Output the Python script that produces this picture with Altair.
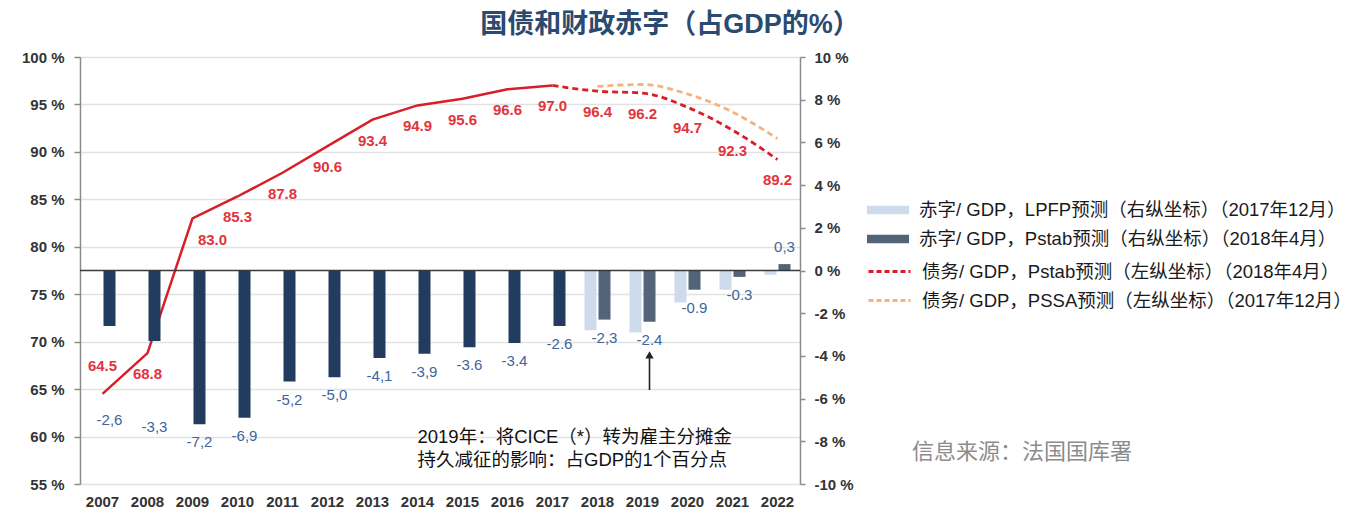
import altair as alt
import pandas as pd

# ---------------- data ----------------
years = [str(y) for y in range(2007, 2023)]
hist_years = years[:11]          # 2007-2017
fc_years = years[11:]            # 2018-2022
debt_fc_years = years[10:]       # 2017-2022 (dashed Pstab line starts at 2017)

deficit_hist = [-2.6, -3.3, -7.2, -6.9, -5.2, -5.0, -4.1, -3.9, -3.6, -3.4, -2.6]
deficit_hist_labels = ["-2,6", "-3,3", "-7,2", "-6,9", "-5,2", "-5,0", "-4,1", "-3,9", "-3.6", "-3.4", "-2.6"]
deficit_lpfp = [-2.8, -2.9, -1.5, -0.9, -0.2]
deficit_pstab = [-2.3, -2.4, -0.9, -0.3, 0.3]
deficit_pstab_labels = ["-2,3", "-2.4", "-0.9", "-0.3", "0,3"]

debt_hist = [64.5, 68.8, 83.0, 85.3, 87.8, 90.6, 93.4, 94.9, 95.6, 96.6, 97.0]
debt_pstab = [97.0, 96.4, 96.2, 94.7, 92.3, 89.2]
debt_pssa = [96.9, 97.1, 96.1, 94.2, 91.4]

left_ticks = [55, 60, 65, 70, 75, 80, 85, 90, 95, 100]
right_ticks = [-10, -8, -6, -4, -2, 0, 2, 4, 6, 8, 10]

title_text = "国债和财政赤字（占GDP的%）"
HIST = "赤字/ GDP（历史）"
LPFP = "赤字/ GDP，LPFP预测（右纵坐标）（2017年12月）"
PSTAB = "赤字/ GDP，Pstab预测（右纵坐标）（2018年4月）"
DEBT_PSTAB = "债务/ GDP，Pstab预测（左纵坐标）（2018年4月）"
DEBT_PSSA = "债务/ GDP，PSSA预测（左纵坐标）（2017年12月）"
note_lines = ["2019年：将CICE（*）转为雇主分摊金", "持久减征的影响：占GDP的1个百分点"]
source_text = "信息来源：法国国库署"

# ---------------- styles ----------------
FONT = "Liberation Sans, Noto Sans CJK SC, sans-serif"
NAVY = "#213c5e"
LIGHT = "#cddbec"
DARK = "#52637a"
RED = "#d81e28"
RED_LABEL = "#e0353d"
ORANGE = "#f7b27c"
BLUE_LABEL = "#40659a"
AXIS_TXT = "#333333"

# ---------------- tables ----------------
bar_rows = []
for y, v, l in zip(hist_years, deficit_hist, deficit_hist_labels):
    bar_rows.append({"year": y, "value": v, "series": HIST, "slot": "B", "label": l})
for y, v in zip(fc_years, deficit_lpfp):
    bar_rows.append({"year": y, "value": v, "series": LPFP, "slot": "A", "label": ""})
for y, v, l in zip(fc_years, deficit_pstab, deficit_pstab_labels):
    bar_rows.append({"year": y, "value": v, "series": PSTAB, "slot": "B", "label": l})
bar_df = pd.DataFrame(bar_rows)

debt_hist_df = pd.DataFrame({"year": hist_years, "value": debt_hist})
debt_fc_df = pd.DataFrame(
    [{"year": y, "value": v, "series": DEBT_PSTAB} for y, v in zip(debt_fc_years, debt_pstab)]
    + [{"year": y, "value": v, "series": DEBT_PSSA} for y, v in zip(fc_years, debt_pssa)]
)
debt_label_df = pd.DataFrame({
    "year": hist_years + fc_years,
    "value": debt_hist + debt_pstab[1:],
})
debt_label_df["label"] = debt_label_df["value"].map(lambda v: f"{v:.1f}")

arrow_df = pd.DataFrame({"year": ["2019"], "slot": ["B"], "y1": [-5.6], "y2": [-4.05], "tip": [-3.95]})
note_df = pd.DataFrame({"year": ["2014"], "y": [-7.78]})
zero_df = pd.DataFrame({"v": [0]})

# ---------------- encodings ----------------
x_scale = alt.Scale(domain=years, paddingInner=0, paddingOuter=0)
x_axis = alt.Axis(orient="bottom", title=None, labelAngle=0, domain=False, ticks=False, grid=False,
                  labelFontSize=15, labelFontWeight="bold", labelColor=AXIS_TXT, labelPadding=10)


def X():
    return alt.X("year:N", scale=x_scale, axis=x_axis, sort=years)


def XOff():
    return alt.XOffset("slot:N", scale=alt.Scale(domain=["A", "B"], paddingInner=0.142857, paddingOuter=0.6786))


yL_scale = alt.Scale(domain=[55, 100], nice=False, zero=False)
yL_axis = alt.Axis(orient="left", title=None, values=left_ticks, labelExpr="datum.value + ' %'",
                   labelFontSize=15, labelFontWeight="bold", labelColor=AXIS_TXT, labelPadding=10,
                   domainColor="#8c8c8c", tickColor="#8c8c8c", tickSize=6, domainWidth=1.5, tickWidth=1.5,
                   grid=True, gridColor="#e2e2e2", gridWidth=1.5)
yR_scale = alt.Scale(domain=[-10, 10], nice=False)
yR_axis = alt.Axis(orient="right", title=None, values=right_ticks, labelExpr="datum.value + ' %'",
                   labelFontSize=15, labelFontWeight="bold", labelColor=AXIS_TXT, labelPadding=9,
                   domainColor="#8c8c8c", tickColor="#8c8c8c", tickSize=5, domainWidth=1.5, tickWidth=1.5,
                   grid=False)


def YL(field):
    return alt.Y(field, scale=yL_scale, axis=yL_axis)


def YR(field):
    return alt.Y(field, scale=yR_scale, axis=yR_axis)


# ---------------- debt (left axis) ----------------
debt_hist_line = alt.Chart(debt_hist_df).mark_line(color=RED, strokeWidth=2.5).encode(
    x=X(), y=YL("value:Q"))

debt_fc_line = alt.Chart(debt_fc_df).mark_line(strokeWidth=2.8, strokeDash=[6, 4], interpolate="monotone").encode(
    x=X(), y=YL("value:Q"),
    stroke=alt.Stroke("series:N", scale=alt.Scale(domain=[DEBT_PSTAB, DEBT_PSSA], range=[RED, ORANGE]),
                      legend=alt.Legend(orient="none", legendX=797.5, legendY=202.5, title=None,
                                        symbolType="M-2,0H2", symbolSize=441, symbolStrokeWidth=3,
                                        symbolDash=[5, 3], labelFontSize=18.5, labelColor="#1a1a1a",
                                        labelOffset=20.5, rowPadding=7, labelLimit=700, padding=0)),
    detail="series:N")

debt_text_base = alt.Chart(debt_label_df).mark_text(
    color=RED_LABEL, fontSize=15, fontWeight="bold", baseline="middle").encode(
    x=X(), y=YL("value:Q"), text="label:N")
debt_text_main = debt_text_base.transform_filter(
    ~alt.FieldOneOfPredicate(field="year", oneOf=["2007", "2009"])).mark_text(
    color=RED_LABEL, fontSize=15, fontWeight="bold", baseline="middle", dy=21)
debt_text_2007 = debt_text_base.transform_filter(alt.datum.year == "2007").mark_text(
    color=RED_LABEL, fontSize=15, fontWeight="bold", baseline="middle", dy=-28)
debt_text_2009 = debt_text_base.transform_filter(alt.datum.year == "2009").mark_text(
    color=RED_LABEL, fontSize=15, fontWeight="bold", baseline="middle", dy=22, dx=20)

debt_layer = alt.layer(debt_hist_line, debt_fc_line, debt_text_main, debt_text_2007, debt_text_2009)

# ---------------- deficit (right axis) ----------------
bars = alt.Chart(bar_df).mark_bar().encode(
    x=X(), xOffset=XOff(), y=YR("value:Q"),
    fill=alt.Fill("series:N", scale=alt.Scale(domain=[HIST, LPFP, PSTAB], range=[NAVY, LIGHT, DARK]),
                  legend=alt.Legend(orient="none", legendX=797.5, legendY=142.5, title=None,
                                    values=[LPFP, PSTAB], symbolType="M-2,-0.4H2V0.4H-2Z", symbolSize=441,
                                    symbolStrokeWidth=0, labelFontSize=18.5, labelColor="#1a1a1a",
                                    labelOffset=20.5, rowPadding=9, labelLimit=700, padding=0)))

zero_rule = alt.Chart(zero_df).mark_rule(color="#3a3a3a", strokeWidth=1.5).encode(y=YR("v:Q"))

bar_text_base = alt.Chart(bar_df).transform_filter(alt.datum.label != "").mark_text(
    color=BLUE_LABEL, fontSize=15, baseline="middle").encode(
    x=X(), xOffset=XOff(), y=YR("value:Q"), text="label:N")
bar_text_neg = bar_text_base.transform_filter(
    (alt.datum.value < 0) & (alt.datum.year != "2007") & (alt.datum.year != "2008")).mark_text(
    color=BLUE_LABEL, fontSize=15, baseline="middle", dy=18)
bar_text_pos = bar_text_base.transform_filter(alt.datum.value > 0).mark_text(
    color=BLUE_LABEL, fontSize=15, baseline="middle", dy=-17)
bar_text_2007 = bar_text_base.transform_filter(alt.datum.year == "2007").mark_text(
    color=BLUE_LABEL, fontSize=15, baseline="middle", dy=94)
bar_text_2008 = bar_text_base.transform_filter(alt.datum.year == "2008").mark_text(
    color=BLUE_LABEL, fontSize=15, baseline="middle", dy=86)

arrow_shaft = alt.Chart(arrow_df).mark_rule(color="#222222", strokeWidth=1.6).encode(
    x=X(), xOffset=XOff(), y=YR("y1:Q"), y2="y2:Q")
arrow_head = alt.Chart(arrow_df).mark_point(shape="triangle-up", filled=True, color="#222222",
                                            size=70, opacity=1).encode(
    x=X(), xOffset=XOff(), y=YR("tip:Q"))

note = alt.Chart(note_df).mark_text(text=note_lines, align="left", baseline="middle", fontSize=18.5,
                                    lineHeight=23, color="#111111").encode(x=X(), y=YR("y:Q"))

source = alt.Chart(zero_df).mark_text(text=source_text, align="left", baseline="middle", fontSize=22,
                                      color="#8c8c8c").encode(x=alt.value(832), y=alt.value(395))

deficit_layer = alt.layer(bars, zero_rule, bar_text_neg, bar_text_pos, bar_text_2007, bar_text_2008,
                          arrow_shaft, arrow_head, note, source)

chart = alt.layer(debt_layer, deficit_layer).resolve_scale(y="independent").properties(
    width=720, height=427,
    autosize=alt.AutoSizeParams(type="none"),
    padding={"left": 72, "top": 49, "right": 557, "bottom": 24},
    title=alt.TitleParams(text=title_text, fontSize=27, fontWeight="bold", color="#2b4a6f",
                          anchor="middle", dx=230, offset=11, font=FONT),
).configure(font=FONT).configure_view(stroke=None)

chart.save("out.html", embed_options={"renderer": "svg", "actions": False})
